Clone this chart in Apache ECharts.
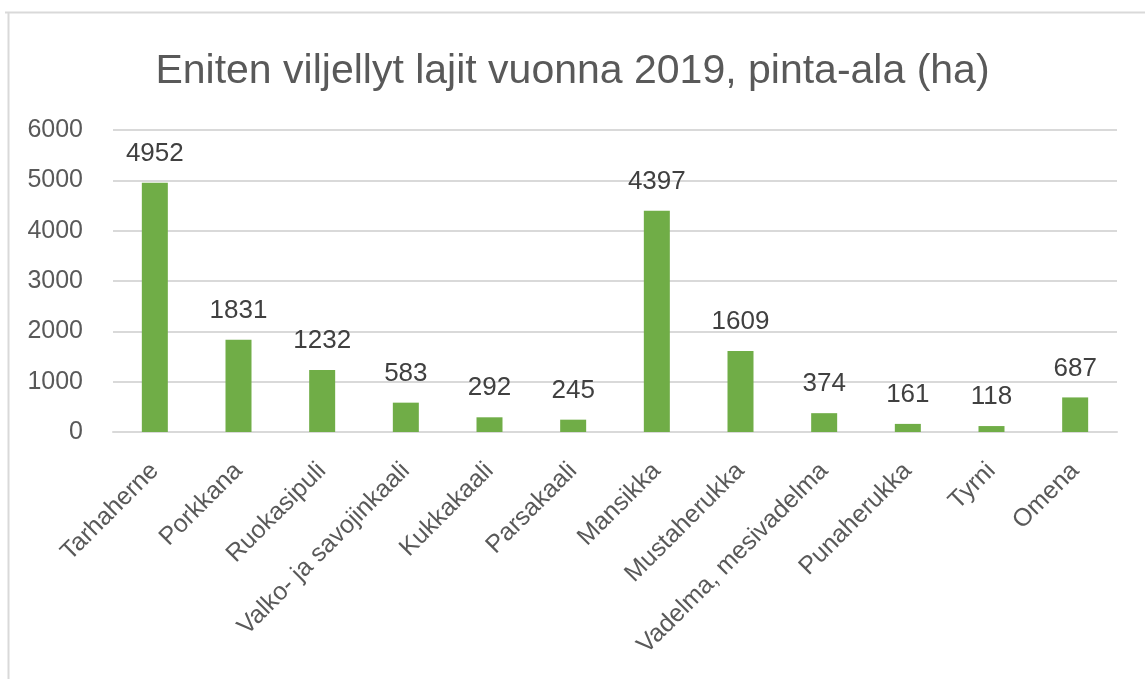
<!DOCTYPE html>
<html>
<head>
<meta charset="utf-8">
<script src="https://cdn.jsdelivr.net/npm/echarts@6/dist/echarts.min.js"></script>
<style>html,body{margin:0;padding:0;background:#fff;}#c{width:1145px;height:679px;}</style>
</head>
<body>
<div id="c"></div>
<script>
const titleText = 'Eniten viljellyt lajit vuonna 2019, pinta-ala (ha)';
const categories = ['Tarhaherne','Porkkana','Ruokasipuli','Valko- ja savojinkaali','Kukkakaali','Parsakaali','Mansikka','Mustaherukka','Vadelma, mesivadelma','Punaherukka','Tyrni','Omena'];
const values = [4952,1831,1232,583,292,245,4397,1609,374,161,118,687];
const yTicks = [0,1000,2000,3000,4000,5000,6000];

const chart = echarts.init(document.getElementById('c'), null, {renderer:'canvas'});
const font = 'Liberation Sans';
chart.setOption({
  backgroundColor:'#fff',
  animation:false,
  title:{text:titleText,left:'center',top:46,textStyle:{fontFamily:font,fontSize:41,fontWeight:'normal',color:'#595959'}},
  grid:{left:113,right:28,top:130,bottom:247},
  xAxis:{type:'category',data:categories,
    axisLine:{lineStyle:{color:'#d9d9d9',width:2}},axisTick:{show:false},
    axisLabel:{rotate:45,interval:0,margin:35,fontFamily:font,fontSize:25,color:'#595959'}},
  yAxis:{type:'value',min:yTicks[0],max:yTicks[yTicks.length-1],interval:1000,
    axisLine:{show:false},axisTick:{show:false},
    splitLine:{lineStyle:{color:'#d9d9d9',width:2}},
    axisLabel:{margin:30,fontFamily:font,fontSize:25,color:'#595959',formatter:v=>String(v)}},
  series:[{type:'bar',data:values,barWidth:26,itemStyle:{color:'#70ad47'},
    label:{show:true,position:'top',distance:16,fontFamily:font,fontSize:26,color:'#404040'}}],
  graphic:[
    {type:'line',shape:{x1:5,y1:12.5,x2:1145,y2:12.5},style:{stroke:'#d9d9d9',lineWidth:2}},
    {type:'line',shape:{x1:8.5,y1:12,x2:8.5,y2:679},style:{stroke:'#d9d9d9',lineWidth:2}}
  ]
});
</script>
</body>
</html>
